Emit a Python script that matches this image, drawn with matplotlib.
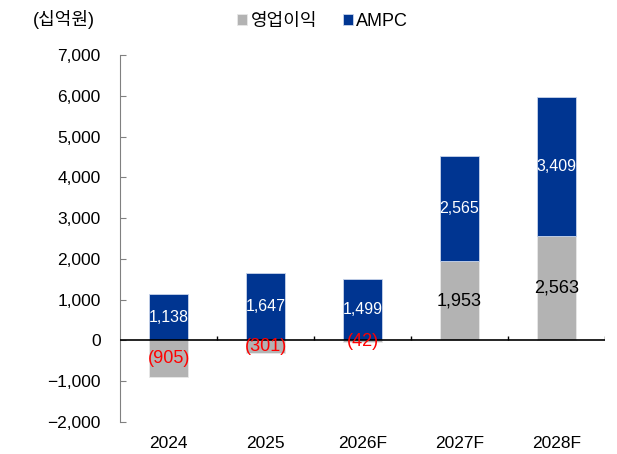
import matplotlib.pyplot as plt
import matplotlib.transforms as mtransforms
import numpy as np

plt.rcParams['font.family'] = ['Liberation Sans', 'Noto Sans CJK KR', 'DejaVu Sans']

years = ['2024', '2025', '2026F', '2027F', '2028F']
op_income = [-905, -301, -42, 1953, 2563]
ampc = [1138, 1647, 1499, 2565, 3409]
op_labels = ['(905)', '(301)', '(42)', '1,953', '2,563']
ampc_labels = ['1,138', '1,647', '1,499', '2,565', '3,409']

gray = '#B3B3B3'
blue = '#003591'

fig = plt.figure(figsize=(6.17, 4.54), dpi=100)
ax = fig.add_axes([0.195, 0.0705, 0.785, 0.808])

x = np.arange(len(years))
w = 0.4
op = np.array(op_income)
bottoms = np.where(op > 0, op, 0)

ax.bar(x, op, width=w, color=gray, edgecolor='#e8e8e8', linewidth=0.6, label='영업이익', zorder=2)
ax.bar(x, ampc, width=w, bottom=bottoms, color=blue, edgecolor='#c8d4ea', linewidth=0.6, label='AMPC', zorder=2)

for i in range(len(years)):
    c = 'red' if op[i] < 0 else 'black'
    ax.text(x[i], op[i] / 2, op_labels[i], ha='center', va='center', fontsize=13, color=c, zorder=4)
    ax.text(x[i], bottoms[i] + ampc[i] / 2, ampc_labels[i], ha='center', va='center', fontsize=11.5, color='white', zorder=4)

ax.set_xlim(-0.5, 4.5)
ax.set_ylim(-2000, 7000)
ax.set_yticks(range(-2000, 7001, 1000))
ax.set_yticklabels([f'{v:,}'.replace('-', '−') for v in range(-2000, 7001, 1000)])
ax.set_xticks(x)
ax.set_xticklabels(years)

for s in ['top', 'right', 'bottom']:
    ax.spines[s].set_visible(False)
ax.spines['left'].set_color('#808080')
ax.tick_params(axis='y', direction='in', length=4, color='#808080', pad=14, labelsize=12.5)
ax.tick_params(axis='x', length=0, pad=10, labelsize=12.5)

ax.axhline(0, color='black', linewidth=1.2, zorder=3)
trans = mtransforms.blended_transform_factory(ax.transData, ax.transAxes)
zero_frac = 2000 / 9000
ax.vlines(x + 0.5, zero_frac, zero_frac + 0.012, transform=trans, color='black', linewidth=1, zorder=3)

fig.text(0.053, 0.958, '(십억원)', fontsize=13, ha='left', va='center')
ax.legend(loc='center', bbox_to_anchor=(0.523, 0.953), bbox_transform=fig.transFigure, ncol=2, frameon=False,
          fontsize=13, handlelength=0.55, handleheight=0.55, handletextpad=0.2, columnspacing=1.4)

plt.savefig('out.png', dpi=100)
